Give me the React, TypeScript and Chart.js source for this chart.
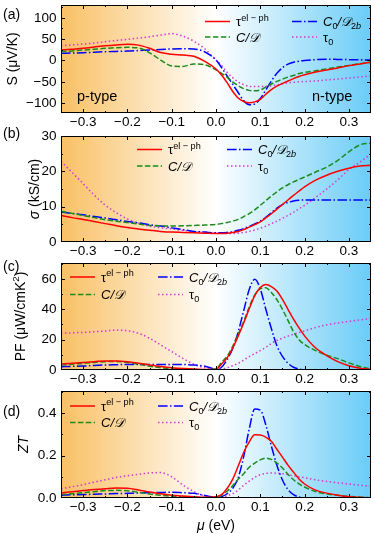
import React, { useEffect, useRef } from "react";
import { Chart, registerables } from "chart.js";
Chart.register(...registerables);

const W = 374;
const H = 534;
const FONT = '"Liberation Sans", Arial, Helvetica, sans-serif';
const PLOT_LEFT = 61;
const PLOT_RIGHT = 371;
const TICK_SIZE = 13.5;

// ---------- data ----------
const MU = [
  -0.35, -0.325, -0.3, -0.275, -0.25, -0.225, -0.2, -0.175, -0.15, -0.125, -0.1, -0.075, -0.05, -0.025,
  0,
  0.0125, 0.025, 0.0375, 0.05, 0.0625, 0.075, 0.0875, 0.1, 0.1125, 0.125, 0.1375, 0.15, 0.1625, 0.175, 0.1875, 0.2,
  0.225, 0.25, 0.275, 0.3, 0.325, 0.35,
];
const X_MAJOR = [-0.3, -0.2, -0.1, 0, 0.1, 0.2, 0.3];
const X_MINOR = [-0.25, -0.15, -0.05, 0.05, 0.15, 0.25];

// (a) Seebeck S (uV/K)
const S_ELPH = [24.5, 26.5, 28.5, 31.5, 34.5, 36.5, 37.8, 36, 28.5, 18.5, 14.5, 13, 10, -2,
  -20,
  -34, -52, -72, -88, -96, -99, -97, -91, -79, -68, -60, -54, -48, -42.5, -37.5, -33.5,
  -27, -22.5, -17.5, -12, -8, -4];
const S_CD = [20.5, 22.5, 24.5, 26.5, 28.5, 30, 30.8, 29.5, 18, 1, -13, -14, -8, -10,
  -22,
  -30, -39, -50, -59, -66, -70, -71, -69, -62, -55, -49, -43.5, -39, -35, -30.5, -28,
  -24, -19.5, -15.5, -11.5, -7.5, -4];
const S_C0D2B = [16.8, 17.5, 18.2, 19.3, 20.5, 21.3, 22, 23.3, 24.5, 26, 27, 27.5, 27, 20,
  1,
  -16.5, -36, -55.5, -75, -94, -103.5, -102, -89, -69, -48, -30, -17, -8.5, -4, -1.5, 0,
  2, 3, 2.5, 2, 1.5, 1];
const S_TAU0 = [34.6, 36.5, 38.5, 41, 44, 47, 49.5, 52.5, 55.6, 59.5, 63, 57, 45, 27,
  1,
  -11.5, -27.5, -40, -50.5, -56.5, -60.5, -61, -61, -60.5, -59, -57, -54.5, -52.5, -51, -50, -49.3,
  -48, -45.5, -43.5, -41, -38.5, -36];

// (b) conductivity sigma (kS/cm)
const SIG_ELPH = [7.5, 6.9, 6.4, 5.8, 5.2, 4.6, 4.1, 3.7, 3.3, 3.0, 2.8, 2.7, 2.6, 2.5,
  2.4,
  2.4, 2.5, 2.7, 3.0, 3.5, 4.2, 4.9, 5.7, 6.8, 8.0, 9.3, 10.6, 11.9, 13.2, 14.4, 15.6,
  17.5, 18.9, 20.0, 20.9, 21.5, 21.7];
const SIG_CD = [8.7, 8.1, 7.5, 6.9, 6.3, 5.9, 5.5, 5.1, 4.7, 4.6, 4.5, 4.6, 4.7, 4.8,
  5.0,
  5.2, 5.5, 5.9, 6.4, 7.2, 8.0, 9.1, 10.4, 11.7, 13.0, 14.2, 15.3, 16.2, 17.0, 17.7, 18.4,
  19.8, 21.2, 23.1, 25.5, 27.5, 28.0];
const SIG_C0D2B = [8.5, 8.1, 7.7, 7.2, 6.8, 6.3, 5.8, 5.4, 4.9, 4.5, 4.0, 3.5, 3.0, 2.8,
  2.6,
  2.6, 2.7, 2.9, 3.3, 3.8, 4.4, 5.1, 5.9, 7.0, 8.3, 9.6, 10.6, 11.2, 11.6, 11.8, 11.9,
  11.9, 11.9, 11.9, 11.9, 11.9, 11.9];
const SIG_TAU0 = [22.8, 19.7, 16.5, 13.3, 10.4, 8.3, 6.5, 5.3, 4.5, 4.0, 3.7, 3.3, 3.0, 2.8,
  2.6,
  2.5, 2.4, 2.4, 2.5, 2.7, 3.0, 3.4, 3.9, 4.5, 5.2, 5.9, 6.7, 7.5, 8.4, 9.4, 10.4,
  12.6, 15.0, 17.6, 20.5, 22.6, 25.0];

// (c) power factor PF (uW/cmK^2)
const PF_ELPH = [4.0, 4.5, 5.0, 5.5, 6.0, 6.0, 5.5, 4.5, 3.3, 2.3, 1.5, 1.0, 0.7, 0.3,
  0.4,
  4, 8, 14.3, 22.3, 31, 40.3, 49, 54.3, 56.3, 55, 52, 46.5, 40, 33.5, 27.7, 22.5,
  14.5, 9.5, 5.5, 2.8, 1.2, 0.4];
const PF_CD = [3.3, 3.8, 4.4, 5.0, 5.5, 5.6, 5.0, 3.8, 2.5, 1.5, 0.8, 0.5, 0.3, 0.2,
  0.8,
  5, 9, 15.5, 23.5, 32, 41.5, 49.5, 53.5, 54.2, 51, 46.3, 40, 32.7, 25.3, 20, 16.8,
  12.8, 9.7, 7.5, 4.7, 2.3, 0.7];
const PF_C0D2B = [2.2, 2.4, 2.6, 3.0, 3.3, 3.5, 3.7, 3.7, 3.7, 3.7, 3.7, 3.6, 3.3, 2.5,
  0.6,
  1.8, 6.8, 14, 25, 39, 53, 59.8, 53.5, 40, 27.3, 16, 9, 4.5, 1.8, 0.6, 0.1,
  0, 0, 0, 0, 0, 0];
const PF_TAU0 = [24.2, 24.5, 24.8, 25.2, 25.7, 26.3, 25.9, 24.2, 20.9, 16.5, 12.1, 7.7, 3.7, 1.5,
  0.4,
  0.6, 1.5, 2.8, 4.4, 6.5, 8.8, 10.8, 12.8, 15, 17.5, 19.5, 21, 22.3, 23.5, 24.7, 25.8,
  28, 29.8, 31, 32, 33, 34];

// (d) figure of merit ZT
const ZT_ELPH = [0.024, 0.03, 0.035, 0.04, 0.044, 0.047, 0.046, 0.038, 0.028, 0.02, 0.013, 0.009, 0.006, 0.003,
  0.006,
  0.016, 0.045, 0.088, 0.15, 0.215, 0.265, 0.298, 0.297, 0.287, 0.268, 0.23, 0.193, 0.155, 0.122, 0.09, 0.066,
  0.037, 0.023, 0.013, 0.006, 0.003, 0.001];
const ZT_CD = [0.016, 0.02, 0.025, 0.03, 0.035, 0.036, 0.034, 0.027, 0.019, 0.013, 0.008, 0.005, 0.003, 0.002,
  0.005,
  0.013, 0.032, 0.058, 0.088, 0.115, 0.145, 0.165, 0.18, 0.188, 0.182, 0.165, 0.142, 0.112, 0.086, 0.067, 0.052,
  0.03, 0.019, 0.013, 0.008, 0.004, 0.001];
const ZT_C0D2B = [0.013, 0.015, 0.016, 0.018, 0.019, 0.021, 0.022, 0.024, 0.025, 0.026, 0.027, 0.025, 0.022, 0.012,
  0.003,
  0.006, 0.02, 0.045, 0.095, 0.195, 0.325, 0.42, 0.415, 0.345, 0.245, 0.155, 0.085, 0.04, 0.016, 0.005, 0.001,
  0, 0, 0, 0, 0, 0];
const ZT_TAU0 = [0.044, 0.053, 0.063, 0.075, 0.086, 0.097, 0.105, 0.112, 0.118, 0.12, 0.1, 0.062, 0.03, 0.009,
  0.003,
  0.004, 0.01, 0.02, 0.037, 0.06, 0.08, 0.097, 0.11, 0.116, 0.118, 0.117, 0.115, 0.11, 0.105, 0.1, 0.096,
  0.086, 0.078, 0.072, 0.066, 0.06, 0.055];

// ---------- styles ----------
const SERIES_STYLE = [
  { color: "#ff0000", dash: [] as number[] },
  { color: "#1a8c1a", dash: [5.5, 2.4] },
  { color: "#0000ff", dash: [9.6, 2.4, 1.5, 2.4] },
  { color: "#d23ad2", dash: [1.5, 2.5] },
];

type Seg = { t: string; it?: boolean; sub?: boolean; sup?: boolean };

const CAL_D = "\u{1D49F}";
const LEGEND_LABELS: Seg[][] = [
  [{ t: "τ" }, { t: "el − ph", sup: true }],
  [{ t: "C/" + CAL_D, it: true }],
  [{ t: "C", it: true }, { t: "0", sub: true }, { t: "/" + CAL_D, it: true }, { t: "2", sub: true }, { t: "b", sub: true, it: true }],
  [{ t: "τ" }, { t: "0", sub: true }],
];

type Panel = {
  id: string;
  top: number;
  bottom: number;
  yMin: number;
  yMax: number;
  yMajor: number[];
  yMinor: number[];
  dec: number;
  data: number[][];
  legend: { x1: number; x2: number; y1: number; y2: number };
  tag: { text: string; y: number };
  title: { x: number; segs: Seg[] };
};

const PANELS: Panel[] = [
  {
    id: "a", top: 5, bottom: 113, yMin: -123, yMax: 130,
    yMajor: [-100, -50, 0, 50, 100], yMinor: [-75, -25, 25, 75, 125], dec: 0,
    data: [S_ELPH, S_CD, S_C0D2B, S_TAU0],
    legend: { x1: 205, x2: 292, y1: 21.5, y2: 37 },
    tag: { text: "(a)", y: 14 },
    title: { x: 12, segs: [{ t: "S (μV/K)" }] },
  },
  {
    id: "b", top: 136, bottom: 242, yMin: 0, yMax: 30,
    yMajor: [0, 10, 20, 30], yMinor: [5, 15, 25], dec: 0,
    data: [SIG_ELPH, SIG_CD, SIG_C0D2B, SIG_TAU0],
    legend: { x1: 137, x2: 227, y1: 149.5, y2: 166 },
    tag: { text: "(b)", y: 132.5 },
    title: { x: 34, segs: [{ t: "σ", it: true }, { t: " (kS/cm)" }] },
  },
  {
    id: "c", top: 263, bottom: 370, yMin: 0, yMax: 70.5,
    yMajor: [0, 20, 40, 60], yMinor: [10, 30, 50, 70], dec: 0,
    data: [PF_ELPH, PF_CD, PF_C0D2B, PF_TAU0],
    legend: { x1: 70, x2: 158, y1: 277, y2: 294.5 },
    tag: { text: "(c)", y: 266 },
    title: { x: 20, segs: [{ t: "PF (μW/cmK" }, { t: "2", sup: true }, { t: ")" }] },
  },
  {
    id: "d", top: 391, bottom: 498, yMin: 0, yMax: 0.505,
    yMajor: [0, 0.2, 0.4], yMinor: [0.1, 0.3, 0.5], dec: 1,
    data: [ZT_ELPH, ZT_CD, ZT_C0D2B, ZT_TAU0],
    legend: { x1: 70, x2: 158, y1: 406, y2: 422.5 },
    tag: { text: "(d)", y: 411 },
    title: { x: 23, segs: [{ t: "ZT", it: true }] },
  },
];

// ---------- helpers ----------
function fmtNum(v: number, d: number) {
  const s = Math.abs(v) < 1e-9 ? (0).toFixed(d) : v.toFixed(d);
  return s.replace("-", "\u2212");
}

function drawRich(ctx: CanvasRenderingContext2D, segs: Seg[], x: number, y: number, size: number, align: "left" | "center") {
  const parts = segs.map((s) => {
    const fs = s.sub || s.sup ? size * 0.7 : size;
    const font = `${s.it ? "italic " : ""}${fs}px ${FONT}`;
    ctx.font = font;
    return { s, font, w: ctx.measureText(s.t).width };
  });
  const total = parts.reduce((a, p) => a + p.w, 0);
  let cx = align === "center" ? x - total / 2 : x;
  const base = y + size * 0.36;
  ctx.textAlign = "left";
  ctx.textBaseline = "alphabetic";
  ctx.fillStyle = "#000";
  for (const p of parts) {
    ctx.font = p.font;
    const dy = p.s.sup ? -size * 0.42 : p.s.sub ? size * 0.22 : 0;
    ctx.fillText(p.s.t, cx, base + dy);
    cx += p.w;
  }
}

const bgPlugin = {
  id: "bgGrad",
  beforeDatasetsDraw(chart: any) {
    const { ctx, chartArea } = chart;
    const { left, right, top, bottom } = chartArea;
    ctx.save();
    const g = ctx.createLinearGradient(left, 0, right, 0);
    g.addColorStop(0, "rgb(249,192,100)");
    g.addColorStop(0.5, "rgb(255,255,255)");
    g.addColorStop(1, "rgb(105,204,247)");
    ctx.fillStyle = g;
    ctx.fillRect(left, top, right - left, bottom - top);
    ctx.restore();
  },
};

function framePlugin(p: Panel) {
  return {
    id: "frame" + p.id,
    afterDatasetsDraw(chart: any) {
      const { ctx, chartArea } = chart;
      const { left, right, top, bottom } = chartArea;
      const xs = chart.scales.x;
      const ys = chart.scales.y;
      ctx.save();
      ctx.setLineDash([]);
      ctx.strokeStyle = "#000";
      ctx.lineWidth = 1;
      ctx.strokeRect(left + 0.5, top + 0.5, right - left - 1, bottom - top - 1);
      const tick = (x1: number, y1: number, x2: number, y2: number) => {
        ctx.beginPath();
        ctx.moveTo(x1, y1);
        ctx.lineTo(x2, y2);
        ctx.stroke();
      };
      const xt = (vals: number[], len: number) => {
        vals.forEach((v) => {
          const px = Math.round(xs.getPixelForValue(v)) + 0.5;
          tick(px, bottom, px, bottom - len);
          tick(px, top, px, top + len);
        });
      };
      const yt = (vals: number[], len: number) => {
        vals.forEach((v) => {
          const py = Math.round(ys.getPixelForValue(v)) + 0.5;
          if (py < top + 1 || py > bottom) return;
          tick(left, py, left + len, py);
          tick(right, py, right - len, py);
        });
      };
      xt(X_MAJOR, 4);
      xt(X_MINOR, 2);
      yt(p.yMajor, 4);
      yt(p.yMinor, 2);
      ctx.restore();
    },
  };
}

function annotPlugin(p: Panel, isLast: boolean) {
  return {
    id: "annot" + p.id,
    afterDraw(chart: any) {
      const { ctx, chartArea } = chart;
      const { top, bottom } = chartArea;
      ctx.save();
      // panel tag
      drawRich(ctx, [{ t: p.tag.text }], 3, p.tag.y, 14, "left");
      // y title
      ctx.save();
      ctx.translate(p.title.x, (top + bottom) / 2);
      ctx.rotate(-Math.PI / 2);
      drawRich(ctx, p.title.segs, 0, 0, 14, "center");
      ctx.restore();
      // legend
      const L = p.legend;
      const pos = [
        [L.x1, L.y1],
        [L.x1, L.y2],
        [L.x2, L.y1],
        [L.x2, L.y2],
      ];
      pos.forEach(([lx, ly], k) => {
        const st = SERIES_STYLE[k];
        ctx.save();
        ctx.strokeStyle = st.color;
        ctx.lineWidth = 1.5;
        ctx.setLineDash(st.dash);
        ctx.beginPath();
        ctx.moveTo(lx, ly);
        ctx.lineTo(lx + 25, ly);
        ctx.stroke();
        ctx.restore();
        drawRich(ctx, LEGEND_LABELS[k], lx + 31, ly, 13, "left");
      });
      if (p.id === "a") {
        drawRich(ctx, [{ t: "p-type" }], 77, 95.5, 14.5, "left");
        drawRich(ctx, [{ t: "n-type" }], 312, 95.5, 14.5, "left");
      }
      if (isLast) {
        drawRich(ctx, [{ t: "μ", it: true }, { t: " (eV)" }], 216, 525, 14, "center");
      }
      ctx.restore();
    },
  };
}

function makeChart(canvas: HTMLCanvasElement, p: Panel, isLast: boolean) {
  const X_H = 20;
  return new Chart(canvas, {
    type: "line",
    data: {
      datasets: p.data.map((vals, k) => ({
        data: MU.map((x, j) => ({ x, y: vals[j] })),
        borderColor: SERIES_STYLE[k].color,
        borderWidth: 1.5,
        borderDash: SERIES_STYLE[k].dash,
        pointRadius: 0,
        fill: false,
        cubicInterpolationMode: "monotone" as const,
      })),
    },
    options: {
      responsive: false,
      animation: false,
      devicePixelRatio: 1,
      events: [],
      layout: { padding: { top: p.top, left: 0, right: W - PLOT_RIGHT, bottom: H - p.bottom - X_H } },
      plugins: { legend: { display: false }, tooltip: { enabled: false } },
      scales: {
        x: {
          type: "linear",
          min: -0.35,
          max: 0.35,
          afterBuildTicks: (s: any) => {
            s.ticks = X_MAJOR.map((v) => ({ value: v }));
          },
          ticks: {
            callback: (v: any) => fmtNum(Number(v), 1),
            font: { family: FONT, size: TICK_SIZE },
            color: "#000",
            padding: 1,
            maxRotation: 0,
            autoSkip: false,
          },
          grid: { display: false, drawTicks: false },
          border: { display: false },
          afterFit: (s: any) => {
            s.height = X_H;
            s.paddingLeft = 0;
            s.paddingRight = 0;
          },
        },
        y: {
          type: "linear",
          min: p.yMin,
          max: p.yMax,
          afterBuildTicks: (s: any) => {
            s.ticks = p.yMajor.map((v) => ({ value: v }));
          },
          ticks: {
            callback: (v: any) => fmtNum(Number(v), p.dec),
            font: { family: FONT, size: TICK_SIZE },
            color: "#000",
            padding: 4.5,
            autoSkip: false,
          },
          grid: { display: false, drawTicks: false },
          border: { display: false },
          afterFit: (s: any) => {
            s.width = PLOT_LEFT;
            s.paddingTop = 0;
            s.paddingBottom = 0;
          },
        },
      },
    } as any,
    plugins: [bgPlugin, framePlugin(p), annotPlugin(p, isLast)],
  });
}

export default function App() {
  const refs = useRef<(HTMLCanvasElement | null)[]>([]);
  useEffect(() => {
    const charts = PANELS.map((p, i) => makeChart(refs.current[i] as HTMLCanvasElement, p, i === PANELS.length - 1));
    return () => charts.forEach((c) => c.destroy());
  }, []);
  return (
    <div style={{ position: "absolute", left: 0, top: 0, width: W, height: H, background: "#fff" }}>
      {PANELS.map((p, i) => (
        <canvas
          key={p.id}
          ref={(el) => {
            refs.current[i] = el;
          }}
          width={W}
          height={H}
          style={{ position: "absolute", left: 0, top: 0, width: W, height: H }}
        />
      ))}
    </div>
  );
}
